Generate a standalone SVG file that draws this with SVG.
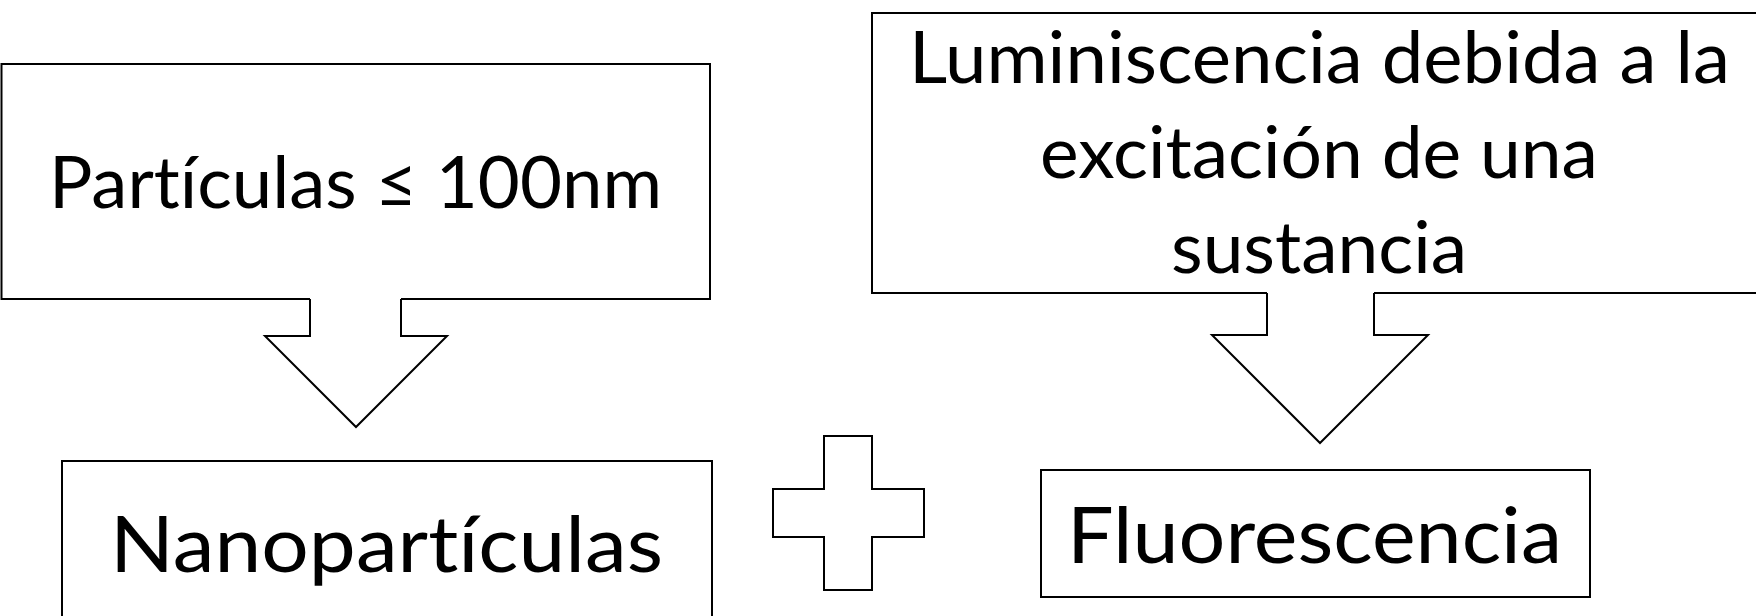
<svg xmlns="http://www.w3.org/2000/svg" width="1756" height="616" viewBox="0 0 1756 616">
<style>
.ln{fill:none;stroke:#000;stroke-width:2;stroke-linejoin:miter}
.bx{fill:#fff;stroke:#000;stroke-width:2}
.t{font-family:Lato,"Open Sans","Liberation Sans",sans-serif;fill:#000;text-anchor:middle;font-variant-ligatures:none;font-feature-settings:"liga" 0,"dlig" 0}
</style>
<rect width="1756" height="616" fill="#fff"/>
<g id="node-particulas">
<path class="ln" d="M310,299 H1.5 V64 H710 V299 H401"/>
<text class="t" x="355.5" y="208" font-size="71" textLength="613" lengthAdjust="spacingAndGlyphs">Partículas ≤ 100nm</text>
</g>
<g id="node-luminiscencia">
<path class="ln" d="M1267,293 H872 V13 H1768 V293 H1374"/>
<text class="t" x="1319.5" y="83" font-size="71" textLength="821" lengthAdjust="spacingAndGlyphs">Luminiscencia debida a la</text>
<text class="t" x="1319" y="178" font-size="71" textLength="558" lengthAdjust="spacingAndGlyphs">excitación de una</text>
<text class="t" x="1319" y="273" font-size="71" textLength="296" lengthAdjust="spacingAndGlyphs">sustancia</text>
</g>
<g id="node-nanoparticulas">
<rect class="bx" x="62" y="461" width="650" height="170"/>
<text class="t" x="386.5" y="572" font-size="78" textLength="553" lengthAdjust="spacingAndGlyphs">Nanopartículas</text>
</g>
<g id="node-plus">
<path class="bx" d="M824,436 H872 V489 H924 V537 H872 V590 H824 V537 H773 V489 H824 Z"/>
</g>
<g id="node-fluorescencia">
<rect class="bx" x="1041" y="470" width="549" height="127"/>
<text class="t" x="1314.5" y="563" font-size="78" textLength="495" lengthAdjust="spacingAndGlyphs">Fluorescencia</text>
</g>
<g id="connectors">
<path class="ln" d="M310,299 V336 H265 L356,427 L447,336 H401 V299"/>
<path class="ln" d="M1267,293 V335 H1212 L1320,443 L1428,335 H1374 V293"/>
</g>
</svg>
